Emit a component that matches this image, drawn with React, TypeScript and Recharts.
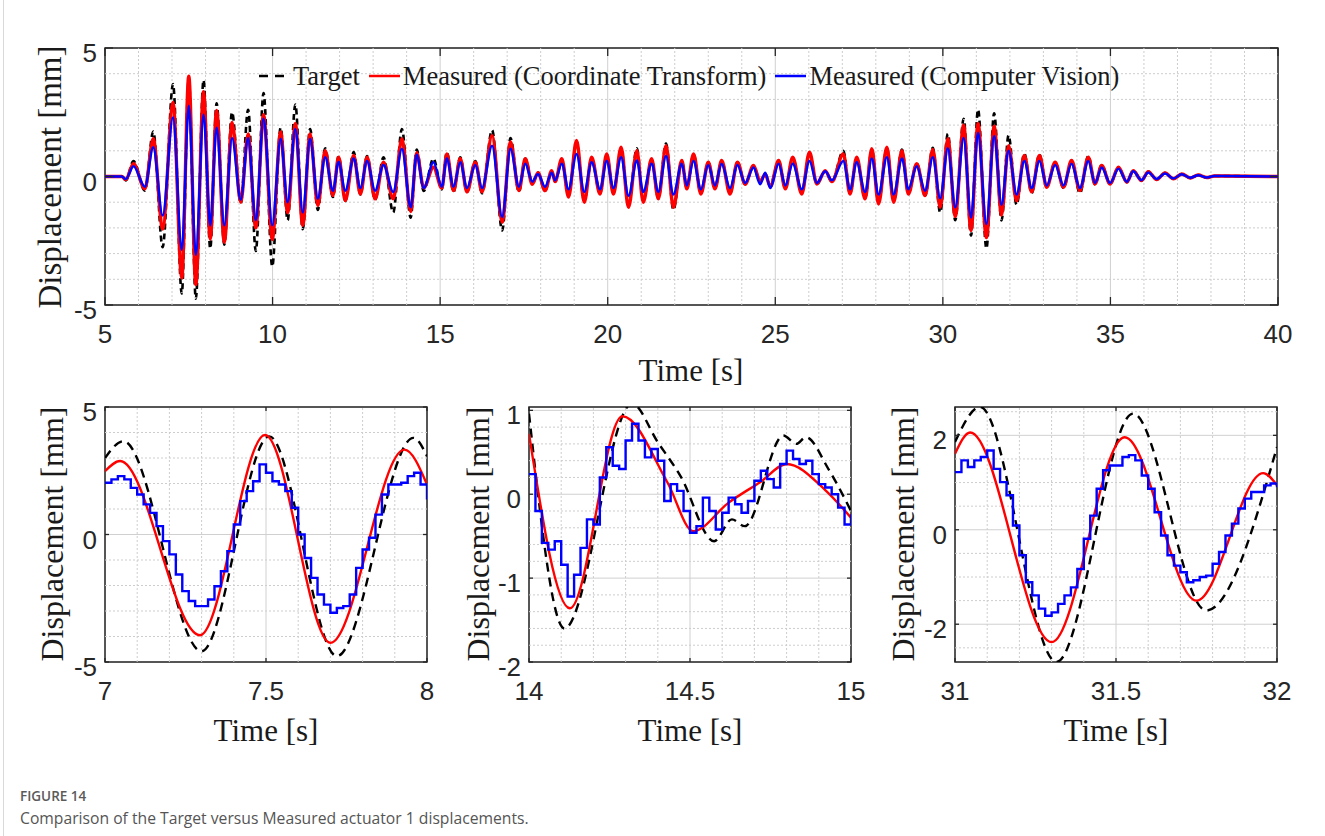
import React from "react";
import {
  LineChart,
  Line,
  XAxis,
  YAxis,
  CartesianGrid,
  ReferenceLine,
  ReferenceArea,
} from "recharts";

// ---------- overview 5–40 s (peaks / troughs) ----------
const topTime = [
  5, 5.5, 5.62, 5.85, 6.19, 6.44, 6.72, 7.03, 7.29, 7.5,
  7.71, 7.94, 8.14, 8.33, 8.56, 8.79, 9.05, 9.27, 9.5, 9.73,
  9.99, 10.24, 10.45, 10.68, 10.9, 11.12, 11.35, 11.57, 11.8, 11.97,
  12.17, 12.42, 12.62, 12.82, 13.06, 13.31, 13.6, 13.86, 14.12, 14.3,
  14.51, 14.8, 15.05, 15.2, 15.4, 15.6, 15.8, 16.05, 16.25, 16.55,
  16.85, 17.1, 17.35, 17.54, 17.75, 17.92, 18.13, 18.33, 18.43, 18.63,
  18.83, 19.07, 19.3, 19.52, 19.77, 19.97, 20.17, 20.4, 20.62, 20.87,
  21.06, 21.31, 21.51, 21.74, 21.96, 22.21, 22.36, 22.56, 22.78, 23.0,
  23.2, 23.4, 23.65, 23.87, 24.1, 24.35, 24.55, 24.7, 24.85, 25.1,
  25.3, 25.52, 25.79, 26.02, 26.24, 26.49, 26.69, 27.03, 27.23, 27.43,
  27.68, 27.88, 28.08, 28.33, 28.53, 28.78, 28.97, 29.22, 29.47, 29.7,
  29.92, 30.15, 30.37, 30.62, 30.84, 31.05, 31.3, 31.53, 31.75, 31.96,
  32.2, 32.43, 32.65, 32.88, 33.1, 33.35, 33.6, 33.84, 34.09, 34.34,
  34.54, 34.74, 34.99, 35.24, 35.49, 35.68, 35.93, 36.13, 36.38, 36.63,
  36.88, 37.13, 37.38, 37.62, 37.87, 38.1, 40,
];
const topTarget = [
  0, 0, -0.15, 0.6, -0.55, 1.75, -2.75, 3.6, -4.55, 3.8,
  -4.75, 3.75, -2.8, 2.85, -2.65, 2.5, -1.05, 2.6, -2.9, 3.25,
  -3.5, 1.9, -1.7, 2.8, -2.05, 1.85, -1.3, 1.1, -0.8, 0.8,
  -0.95, 0.95, -0.7, 0.8, -0.9, 0.75, -1.4, 1.85, -1.6, 1.05,
  -0.56, 0.7, -0.5, 0.95, -0.6, 0.75, -0.6, 0.6, -0.65, 1.8,
  -2.1, 1.5, -0.6, 0.7, -0.25, 0.15, -0.55, 0.2, -0.2, 0.65,
  -0.75, 1.3, -0.95, 0.7, -0.65, 0.85, -0.65, 1.05, -1.1, 1.1,
  -0.95, 0.65, -0.85, 1.28, -1.3, 0.6, -0.45, 0.85, -0.65, 0.55,
  -0.45, 0.6, -0.65, 0.55, -0.3, 0.4, -0.2, 0.1, -0.35, 0.6,
  -0.45, 0.7, -0.65, 0.9, -0.3, 0.2, -0.2, 1.0, -0.65, 0.7,
  -0.85, 1.05, -1.0, 1.1, -0.95, 1.05, -0.65, 0.5, -0.75, 1.12,
  -1.4, 1.66, -1.7, 2.25, -2.3, 2.6, -2.8, 2.46, -1.71, 1.6,
  -1.1, 0.9, -0.65, 0.85, -0.4, 0.55, -0.45, 0.6, -0.65, 0.8,
  -0.3, 0.45, -0.3, 0.35, -0.22, 0.23, -0.16, 0.19, -0.12, 0.14,
  -0.09, 0.1, -0.06, 0.06, -0.04, 0.02, 0,
];
const topCT = [
  0, 0, -0.12, 0.5, -0.48, 1.47, -2.04, 2.88, -3.95, 3.9,
  -4.2, 3.3, -2.43, 2.57, -2.56, 2.1, -1.0, 1.66, -2.0, 2.4,
  -2.45, 1.73, -1.4, 2.05, -1.9, 1.66, -1.13, 1.0, -0.74, 0.75,
  -0.94, 0.82, -0.68, 0.75, -0.87, 0.56, -0.87, 1.47, -1.36, 0.93,
  -0.44, 0.36, -0.45, 0.88, -0.55, 0.7, -0.6, 0.56, -0.6, 1.6,
  -1.78, 1.34, -0.55, 0.69, -0.3, 0.15, -0.55, 0.23, -0.2, 0.69,
  -0.8, 1.4, -1.0, 0.75, -0.68, 0.88, -0.68, 1.14, -1.2, 1.0,
  -1.0, 0.69, -0.87, 1.2, -1.2, 0.62, -0.48, 0.88, -0.68, 0.56,
  -0.48, 0.62, -0.68, 0.56, -0.3, 0.43, -0.2, 0.1, -0.4, 0.62,
  -0.48, 0.75, -0.68, 0.95, -0.29, 0.23, -0.2, 0.88, -0.68, 0.75,
  -0.87, 1.08, -1.07, 1.14, -1.0, 1.0, -0.68, 0.5, -0.74, 1.05,
  -1.2, 1.47, -1.55, 2.0, -2.1, 2.06, -2.38, 1.96, -1.5, 1.2,
  -0.95, 0.82, -0.6, 0.82, -0.42, 0.56, -0.42, 0.62, -0.55, 0.75,
  -0.29, 0.43, -0.29, 0.36, -0.22, 0.23, -0.16, 0.19, -0.12, 0.14,
  -0.09, 0.1, -0.06, 0.06, -0.04, 0.02, 0,
];
const topCV = [
  0, 0, -0.1, 0.4, -0.4, 1.14, -1.52, 2.3, -2.85, 2.75,
  -3.05, 2.4, -1.9, 1.9, -1.9, 1.5, -0.9, 1.5, -1.7, 2.25,
  -1.9, 1.47, -1.0, 1.85, -1.4, 1.47, -0.87, 0.75, -0.55, 0.56,
  -0.55, 0.7, -0.45, 0.6, -0.55, 0.45, -0.6, 1.08, -1.2, 0.85,
  -0.45, 0.55, -0.4, 0.7, -0.4, 0.55, -0.45, 0.45, -0.45, 1.2,
  -1.58, 1.08, -0.4, 0.5, -0.2, 0.1, -0.4, 0.15, -0.15, 0.5,
  -0.5, 0.88, -0.6, 0.55, -0.5, 0.6, -0.45, 0.75, -0.75, 0.62,
  -0.6, 0.5, -0.6, 0.8, -0.7, 0.5, -0.35, 0.6, -0.5, 0.45,
  -0.35, 0.5, -0.45, 0.45, -0.25, 0.35, -0.3, 0.15, -0.45, 0.5,
  -0.35, 0.5, -0.5, 0.6, -0.25, 0.2, -0.15, 0.6, -0.5, 0.55,
  -0.6, 0.7, -0.7, 0.75, -0.7, 0.7, -0.5, 0.4, -0.55, 0.75,
  -0.85, 1.1, -1.2, 1.5, -1.6, 1.7, -1.85, 1.58, -1.1, 1.0,
  -0.7, 0.6, -0.45, 0.6, -0.35, 0.45, -0.35, 0.5, -0.45, 0.6,
  -0.25, 0.35, -0.25, 0.3, -0.2, 0.2, -0.14, 0.16, -0.1, 0.12,
  -0.08, 0.09, -0.05, 0.05, -0.04, 0.02, 0,
];

// ---------- zoom 7–8 s ----------
const p1TargetT = [7.0, 7.057, 7.3, 7.51, 7.72, 7.958, 8.0];
const p1TargetV = [3.0, 3.66, -4.58, 3.85, -4.77, 3.79, 3.07];
const p1CtT = [7.0, 7.047, 7.295, 7.497, 7.7, 7.93, 8.0];
const p1CtV = [2.48, 2.88, -3.95, 3.9, -4.25, 3.33, 1.96];
const p1CvStart = 7.0;
const p1Cv = [
  2.03, 2.16, 2.29, 2.16, 1.83, 1.57, 1.18, 0.85, 0.33, -0.26,
  -0.78, -1.57, -2.22, -2.61, -2.81, -2.81, -2.55, -2.03, -1.44, -0.65,
  0.39, 1.31, 1.7, 2.09, 2.75, 2.42, 2.09, 1.96, 1.7, 1.05,
  0, -0.92, -1.7, -2.35, -2.75, -3.07, -2.88, -2.81, -2.35, -1.31,
  -0.59, -0.13, 0.78, 1.57, 1.96, 1.96, 2.03, 2.29, 2.42, 1.96,
  1.37,
];

// ---------- zoom 14–15 s ----------
const p2TargetT = [14.0, 14.11, 14.32, 14.4, 14.47, 14.575, 14.63, 14.67, 14.79, 14.83, 14.86, 14.93, 15.0];
const p2TargetV = [0.96, -1.6, 1.08, 0.62, 0.22, -0.56, -0.3, -0.38, 0.7, 0.6, 0.68, 0.3, -0.2];
const p2CtT = [14.0, 14.127, 14.29, 14.43, 14.51, 14.62, 14.72, 14.8, 14.92, 15.0];
const p2CtV = [0.72, -1.36, 0.93, 0.14, -0.44, -0.1, 0.15, 0.36, 0.05, -0.28];
const p2CvStart = 14.0;
const p2Cv = [
  0.24, -0.2, -0.58, -0.66, -0.56, -0.84, -1.22, -0.96, -0.64, -0.3,
  -0.36, 0.2, 0.56, 0.34, 0.3, 0.64, 0.84, 0.64, 0.44, 0.54,
  0.4, -0.08, 0.12, 0.04, -0.2, -0.46, -0.38, -0.04, -0.2, -0.42,
  -0.22, -0.04, -0.12, -0.22, -0.08, 0.16, 0.28, 0.18, 0.08, 0.36,
  0.52, 0.42, 0.36, 0.4, 0.24, 0.12, 0.08, 0, -0.16, -0.36,
  -0.24,
];

// ---------- zoom 31–32 s ----------
const p3TargetT = [31.0, 31.078, 31.315, 31.553, 31.78, 32.0];
const p3TargetV = [1.86, 2.6, -2.8, 2.46, -1.71, 1.75];
const p3CtT = [31.0, 31.047, 31.3, 31.527, 31.75, 31.957, 32.0];
const p3CtV = [1.61, 2.06, -2.38, 1.96, -1.5, 1.2, 0.94];
const p3CvStart = 31.0;
const p3Cv = [
  1.22, 1.47, 1.33, 1.47, 1.54, 1.68, 1.29, 1.01, 0.73, 0.09,
  -0.54, -1.11, -1.39, -1.67, -1.82, -1.75, -1.57, -1.39, -1.22, -0.83,
  -0.19, 0.3, 0.87, 1.26, 1.36, 1.36, 1.54, 1.58, 1.47, 1.15,
  0.87, 0.37, -0.12, -0.54, -0.76, -0.9, -1.11, -1.07, -1.0, -0.97,
  -0.72, -0.47, -0.12, 0.13, 0.45, 0.66, 0.8, 0.8, 0.94, 0.98,
  0.9,
];
const cvStep = 0.02; // camera sample interval

// ---------- ticks / grid ----------
const topXTicks = [5, 10, 15, 20, 25, 30, 35, 40];
const topYTicks = [-5, 0, 5];
const topXMinor = [6, 7, 8, 9, 11, 12, 13, 14, 16, 17, 18, 19, 21, 22, 23, 24, 26, 27, 28, 29, 31, 32, 33, 34, 36, 37, 38, 39];
const topYMinor = [-4, -3, -2, -1, 1, 2, 3, 4];

const p1XTicks = [7, 7.5, 8];
const p1YTicks = [-5, 0, 5];
const p1XMinor = [7.1, 7.2, 7.3, 7.4, 7.6, 7.7, 7.8, 7.9];
const p1YMinor = [-4, -3, -2, -1, 1, 2, 3, 4];

const p2XTicks = [14, 14.5, 15];
const p2YTicks = [-2, -1, 0, 1];
const p2XMinor = [14.1, 14.2, 14.3, 14.4, 14.6, 14.7, 14.8, 14.9];
const p2YMinor = [-1.8, -1.6, -1.4, -1.2, -0.8, -0.6, -0.4, -0.2, 0.2, 0.4, 0.6, 0.8];

const p3XTicks = [31, 31.5, 32];
const p3YTicks = [-2, 0, 2];
const p3XMinor = [31.1, 31.2, 31.3, 31.4, 31.6, 31.7, 31.8, 31.9];
const p3YMinor = [-2.5, -1.5, -1, -0.5, 0.5, 1, 1.5, 2.5];

// ---------- helpers ----------
const pairs = (ts: number[], vs: number[]) => ts.map((t, i) => ({ t, v: vs[i] }));
const steps = (start: number, vs: number[]) =>
  vs.map((v, i) => ({ t: Math.round((start + i * cvStep) * 1000) / 1000, v }));

const topData = topTime.map((t, i) => ({ t, target: topTarget[i], ct: topCT[i], cv: topCV[i] }));

const TICK_FONT = "'Liberation Sans', Arial, sans-serif";
const LABEL_FONT = "'Liberation Serif', 'Times New Roman', serif";
const INK = "#262626";
const RED = "#ff0000";
const BLUE = "#0000ff";

const PAD_L = 100;
const PAD_T = 20;
const PAD_R = 20;
const PAD_B = 80;

type PanelProps = {
  left: number;
  top: number;
  w: number;
  h: number;
  xDomain: [number, number];
  yDomain: [number, number];
  xTicks: number[];
  yTicks: number[];
  xMinor: number[];
  yMinor: number[];
  tickLen: number;
  children: React.ReactNode;
};

const Panel: React.FC<PanelProps> = ({
  left, top, w, h, xDomain, yDomain, xTicks, yTicks, xMinor, yMinor, tickLen, children,
}) => {
  const xTick = (p: any) => {
    const { x, y, payload } = p;
    return (
      <g>
        <line x1={x} x2={x} y1={y} y2={y - tickLen} stroke={INK} strokeWidth={1.3} />
        <line x1={x} x2={x} y1={y - h} y2={y - h + tickLen} stroke={INK} strokeWidth={1.3} />
        <text
          x={x}
          y={y + 29}
          textAnchor="middle"
          dominantBaseline="central"
          fontFamily={TICK_FONT}
          fontSize={26}
          fill={INK}
        >
          {String(payload.value)}
        </text>
      </g>
    );
  };
  const yTick = (p: any) => {
    const { x, y, payload } = p;
    return (
      <g>
        <line x1={x} x2={x + tickLen} y1={y} y2={y} stroke={INK} strokeWidth={1.3} />
        <line x1={x + w} x2={x + w - tickLen} y1={y} y2={y} stroke={INK} strokeWidth={1.3} />
        <text
          x={x - 8}
          y={y + 5}
          textAnchor="end"
          dominantBaseline="central"
          fontFamily={TICK_FONT}
          fontSize={26}
          fill={INK}
        >
          {String(payload.value)}
        </text>
      </g>
    );
  };

  return (
    <div style={{ position: "absolute", left: left - PAD_L, top: top - PAD_T }}>
      <LineChart
        width={w + PAD_L + PAD_R}
        height={h + PAD_T + PAD_B}
        margin={{ top: PAD_T, right: PAD_R, bottom: 0, left: 0 }}
      >
        <CartesianGrid stroke="#d0d0d0" strokeWidth={1} />
        {xMinor.map((v) => (
          <ReferenceLine key={"mx" + v} x={v} stroke="#cdcdcd" strokeDasharray="2 2" />
        ))}
        {yMinor.map((v) => (
          <ReferenceLine key={"my" + v} y={v} stroke="#cdcdcd" strokeDasharray="2 2" />
        ))}
        <XAxis
          type="number"
          dataKey="t"
          domain={xDomain}
          ticks={xTicks}
          interval={0}
          allowDataOverflow
          height={PAD_B}
          tickSize={0}
          tickMargin={0}
          axisLine={false}
          tickLine={false}
          tick={xTick}
        />
        <YAxis
          type="number"
          domain={yDomain}
          ticks={yTicks}
          interval={0}
          allowDataOverflow
          width={PAD_L}
          tickSize={0}
          tickMargin={0}
          axisLine={false}
          tickLine={false}
          tick={yTick}
        />
        {children}
        <ReferenceArea
          x1={xDomain[0]}
          x2={xDomain[1]}
          y1={yDomain[0]}
          y2={yDomain[1]}
          fill="none"
          fillOpacity={0}
          stroke={INK}
          strokeWidth={1.5}
          ifOverflow="visible"
        />
      </LineChart>
    </div>
  );
};

// three traces of a zoomed panel
const zoomLines = (
  tgt: { t: number; v: number }[],
  ct: { t: number; v: number }[],
  cv: { t: number; v: number }[],
) => [
  <Line key="tgt" data={tgt} dataKey="v" type="monotone" stroke="#000" strokeWidth={2.4}
    strokeDasharray="9 6" dot={false} activeDot={false} isAnimationActive={false} />,
  <Line key="ct" data={ct} dataKey="v" type="monotone" stroke={RED} strokeWidth={2.4}
    dot={false} activeDot={false} isAnimationActive={false} />,
  <Line key="cv" data={cv} dataKey="v" type="stepAfter" stroke={BLUE} strokeWidth={2.4}
    dot={false} activeDot={false} isAnimationActive={false} />,
];

const Title: React.FC<{ x: number; y: number; size: number; rotate?: boolean; children: React.ReactNode }> = ({
  x, y, size, rotate, children,
}) => (
  <div
    style={{
      position: "absolute",
      left: x,
      top: y,
      transform: `translate(-50%, -50%)${rotate ? " rotate(-90deg)" : ""}`,
      fontFamily: LABEL_FONT,
      fontSize: size,
      lineHeight: 1,
      color: "#1a1a1a",
      whiteSpace: "nowrap",
    }}
  >
    {children}
  </div>
);

const LegendSwatch: React.FC<{ color: string; dashed?: boolean }> = ({ color, dashed }) => (
  <svg width={33} height={10} style={{ display: "block" }}>
    <line x1={1} x2={32} y1={5} y2={5} stroke={color} strokeWidth={2.5}
      strokeDasharray={dashed ? "9 7" : undefined} />
  </svg>
);

const App: React.FC = () => {
  return (
    <div
      style={{
        position: "absolute",
        left: 0,
        top: 0,
        width: 1325,
        height: 836,
        background: "#fff",
        overflow: "hidden",
      }}
    >
      <div style={{ position: "absolute", left: 3, top: 0, width: 1, height: 836, background: "#d9d9d9" }} />

      {/* overview */}
      <Panel
        left={105}
        top={48}
        w={1173}
        h={257}
        xDomain={[5, 40]}
        yDomain={[-5, 5]}
        xTicks={topXTicks}
        yTicks={topYTicks}
        xMinor={topXMinor}
        yMinor={topYMinor}
        tickLen={8}
      >
        <Line data={topData} dataKey="target" type="monotone" stroke="#000" strokeWidth={2.6}
          strokeDasharray="6 4" dot={false} activeDot={false} isAnimationActive={false} />
        <Line data={topData} dataKey="ct" type="monotone" stroke={RED} strokeWidth={3.4}
          dot={false} activeDot={false} isAnimationActive={false} />
        <Line data={topData} dataKey="cv" type="monotone" stroke={BLUE} strokeWidth={2.5}
          dot={false} activeDot={false} isAnimationActive={false} />
      </Panel>

      {/* legend */}
      <div
        style={{
          position: "absolute",
          left: 258,
          top: 62,
          height: 28,
          display: "flex",
          alignItems: "center",
          fontFamily: LABEL_FONT,
          fontSize: 26.5,
          lineHeight: 1,
          color: "#1a1a1a",
          whiteSpace: "nowrap",
        }}
      >
        <LegendSwatch color="#000" dashed />
        <span style={{ marginLeft: 2, marginRight: 8 }}>Target</span>
        <LegendSwatch color={RED} />
        <span style={{ marginLeft: 2, marginRight: 8 }}>Measured (Coordinate Transform)</span>
        <LegendSwatch color={BLUE} />
        <span style={{ marginLeft: 2 }}>Measured (Computer Vision)</span>
      </div>

      <Title x={691} y={370} size={31}>Time [s]</Title>
      <Title x={50} y={177} size={33} rotate>Displacement [mm]</Title>

      {/* 7–8 s */}
      <Panel left={105} top={407} w={322} h={255} xDomain={[7, 8]} yDomain={[-5, 5]}
        xTicks={p1XTicks} yTicks={p1YTicks} xMinor={p1XMinor} yMinor={p1YMinor} tickLen={4}>
        {zoomLines(pairs(p1TargetT, p1TargetV), pairs(p1CtT, p1CtV), steps(p1CvStart, p1Cv))}
      </Panel>
      <Title x={266} y={730} size={31}>Time [s]</Title>
      <Title x={52} y={534} size={32} rotate>Displacement [mm]</Title>

      {/* 14–15 s */}
      <Panel left={529} top={407} w={322} h={255} xDomain={[14, 15]} yDomain={[-2, 1.04]}
        xTicks={p2XTicks} yTicks={p2YTicks} xMinor={p2XMinor} yMinor={p2YMinor} tickLen={4}>
        {zoomLines(pairs(p2TargetT, p2TargetV), pairs(p2CtT, p2CtV), steps(p2CvStart, p2Cv))}
      </Panel>
      <Title x={690} y={730} size={31}>Time [s]</Title>
      <Title x={478} y={534} size={32} rotate>Displacement [mm]</Title>

      {/* 31–32 s */}
      <Panel left={955} top={407} w={322} h={255} xDomain={[31, 32]} yDomain={[-2.8, 2.6]}
        xTicks={p3XTicks} yTicks={p3YTicks} xMinor={p3XMinor} yMinor={p3YMinor} tickLen={4}>
        {zoomLines(pairs(p3TargetT, p3TargetV), pairs(p3CtT, p3CtV), steps(p3CvStart, p3Cv))}
      </Panel>
      <Title x={1116} y={730} size={31}>Time [s]</Title>
      <Title x={903} y={534} size={32} rotate>Displacement [mm]</Title>

      {/* caption */}
      <div
        style={{
          position: "absolute",
          left: 20,
          top: 788,
          fontFamily: "'Open Sans', 'Noto Sans', sans-serif",
          fontSize: 13.5,
          fontWeight: 600,
          color: "#5a5a5a",
          lineHeight: 1.2,
        }}
      >
        FIGURE 14
      </div>
      <div
        style={{
          position: "absolute",
          left: 20,
          top: 809,
          fontFamily: "'Open Sans', 'Noto Sans', sans-serif",
          fontSize: 15.7,
          fontWeight: 400,
          color: "#555",
          lineHeight: 1.2,
          whiteSpace: "nowrap",
        }}
      >
        Comparison of the Target versus Measured actuator 1 displacements.
      </div>
    </div>
  );
};

export default App;
